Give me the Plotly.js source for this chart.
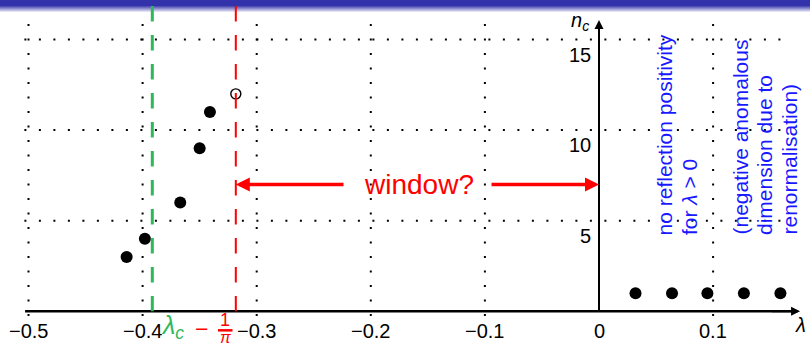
<!DOCTYPE html>
<html><head><meta charset="utf-8">
<script src="https://cdn.plot.ly/plotly-3.0.1.min.js"></script>
<style>html,body{margin:0;padding:0;background:#fff;}#chart{width:810px;height:347px;}</style>
</head><body><div id="chart"></div>
<script>
// ---- data ----
const lambdaFilled = [-0.414, -0.398, -0.367, -0.350, -0.341];
const ncFilled = [3, 4, 6, 9, 11];
const lambdaOpen = [-0.3183];
const ncOpen = [12];
const lambdaPositive = [0.032, 0.064, 0.095, 0.127, 0.159];
const ncPositive = [1, 1, 1, 1, 1];
const lambdaC = -0.3915;
const minusInvPi = -1 / Math.PI;
const xTickVals = [-0.5, -0.4, -0.3, -0.2, -0.1, 0, 0.1];
const xTickText = ['\u22120.5', '\u22120.4', '\u22120.3', '\u22120.2', '\u22120.1', '0', '0.1'];
const xGridVals = [-0.5, -0.4, -0.3, -0.2, -0.1, 0.1];
const yTickVals = [5, 10, 15];
const yTickText = ['5', '10', '15'];
const windowY = 7;
const blueLines1 = ['no reflection positivity', 'for <i>λ</i> > 0'];
const blueLines2 = ['(negative anomalous', 'dimension due to', 'renormalisation)'];

// ---- styling ----
const FONT = 'Liberation Sans, Arial, Helvetica, sans-serif';
const GREEN = 'rgb(46,184,92)';
const RED = 'rgb(255,0,0)';
const BLUE = 'rgb(25,25,255)';
const DOT = '2px,12.5px';
const DASH = '15.5px,13.5px';

const shapes = [];
// header gradient bar
const H = 347;
for (let i = 0; i < 13; i++) {
  const t = i < 6 ? 0 : (i - 5) / 7;
  const mix = (a) => Math.round(a + (255 - a) * t);
  shapes.push({type: 'rect', xref: 'paper', yref: 'paper', x0: 0, x1: 1,
    y0: 1 - (i + 1) / H, y1: 1 - i / H, line: {width: 0},
    fillcolor: `rgb(${mix(50)},${mix(50)},${mix(170)})`});
}
// dotted grid
xGridVals.forEach(v => shapes.push({type: 'line', xref: 'x', yref: 'y', layer: 'below',
  x0: v, x1: v, y0: -0.26, y1: 15.91, line: {color: '#000', width: 2, dash: DOT}}));
yTickVals.forEach(v => shapes.push({type: 'line', xref: 'x', yref: 'y', layer: 'below',
  x0: -0.5036, x1: 0.1613, y0: v, y1: v, line: {color: '#000', width: 2, dash: DOT}}));
// axes
shapes.push({type: 'line', xref: 'x', yref: 'y', x0: -0.503, x1: 0.17, y0: 0, y1: 0, line: {color: '#000', width: 2.5}});
shapes.push({type: 'line', xref: 'x', yref: 'y', x0: 0, x1: 0, y0: 0, y1: 15.7, line: {color: '#000', width: 2}});
// dashed verticals
shapes.push({type: 'line', xref: 'x', yref: 'y', x0: lambdaC, x1: lambdaC, y0: 16.85, y1: 0, line: {color: GREEN, width: 3, dash: DASH}});
shapes.push({type: 'line', xref: 'x', yref: 'y', x0: minusInvPi, x1: minusInvPi, y0: 16.85, y1: 0, line: {color: RED, width: 2, dash: DASH}});
// fraction bar
shapes.push({type: 'line', xref: 'x', yref: 'y', x0: -0.3339, x1: -0.3212, y0: -1.05, y1: -1.05, line: {color: RED, width: 2.5}});

const annotations = [];
xTickVals.forEach((v, i) => annotations.push({x: v, y: -1.09, xref: 'x', yref: 'y', text: xTickText[i],
  showarrow: false, xanchor: 'center', yanchor: 'middle', font: {family: FONT, size: 20, color: '#000'}}));
yTickVals.forEach((v, i) => annotations.push({x: -0.005, y: v, yshift: -15, xref: 'x', yref: 'y', text: yTickText[i],
  showarrow: false, xanchor: 'right', yanchor: 'middle', font: {family: FONT, size: 20, color: '#000'}}));
annotations.push({x: -0.0167, y: 16.02, xref: 'x', yref: 'y', text: '<i>n</i><sub><i>c</i></sub>', showarrow: false,
  xanchor: 'center', yanchor: 'middle', font: {family: FONT, size: 20, color: '#000'}});
annotations.push({x: 0.1762, y: -0.76, xref: 'x', yref: 'y', text: '<i>λ</i>', showarrow: false,
  xanchor: 'center', yanchor: 'middle', font: {family: FONT, size: 20, color: '#000'}});
// axis arrowheads
annotations.push({x: 0.1762, y: 0, ax: 0.15, ay: 0, xref: 'x', yref: 'y', axref: 'x', ayref: 'y', text: '',
  showarrow: true, arrowhead: 2, arrowsize: 0.9, arrowwidth: 2, arrowcolor: '#000'});
annotations.push({x: 0, y: 16.08, ax: 0, ay: 14, xref: 'x', yref: 'y', axref: 'x', ayref: 'y', text: '',
  showarrow: true, arrowhead: 2, arrowsize: 0.9, arrowwidth: 2, arrowcolor: '#000'});
// window arrows
annotations.push({x: minusInvPi, y: windowY, ax: -0.2226, ay: windowY, xref: 'x', yref: 'y', axref: 'x', ayref: 'y', text: '',
  showarrow: true, arrowhead: 2, arrowsize: 0.8, arrowwidth: 3.5, arrowcolor: RED});
annotations.push({x: 0, y: windowY, ax: -0.0955, ay: windowY, xref: 'x', yref: 'y', axref: 'x', ayref: 'y', text: '',
  showarrow: true, arrowhead: 2, arrowsize: 0.8, arrowwidth: 3.5, arrowcolor: RED});
annotations.push({x: -0.1578, y: windowY, xref: 'x', yref: 'y', text: 'window?', showarrow: false,
  xanchor: 'center', yanchor: 'middle', font: {family: FONT, size: 28, color: RED}});
// blue rotated text
const blueX1 = [0.0578, 0.0789];
const blueX2 = [0.1236, 0.1446, 0.1674];
blueLines1.forEach((t, i) => annotations.push({x: blueX1[i], y: 4.1, xref: 'x', yref: 'y', text: t, showarrow: false,
  textangle: -90, xanchor: 'center', yanchor: 'bottom', font: {family: FONT, size: 21, color: BLUE}}));
blueLines2.forEach((t, i) => annotations.push({x: blueX2[i], y: 4.1, xref: 'x', yref: 'y', text: t, showarrow: false,
  textangle: -90, xanchor: 'center', yanchor: 'bottom', font: {family: FONT, size: 21, color: BLUE}}));
// lambda_c - 1/pi labels
annotations.push({x: -0.3735, y: -0.85, xref: 'x', yref: 'y', text: '<i>λ</i><sub><i>c</i></sub>', showarrow: false,
  xanchor: 'center', yanchor: 'middle', font: {family: FONT, size: 25, color: GREEN}});
annotations.push({x: -0.3488, y: -1.0, xref: 'x', yref: 'y', text: '\u2212', showarrow: false,
  xanchor: 'center', yanchor: 'middle', font: {family: FONT, size: 23, color: RED}});
annotations.push({x: -0.3276, y: -0.5, xref: 'x', yref: 'y', text: '1', showarrow: false,
  xanchor: 'center', yanchor: 'middle', font: {family: FONT, size: 18, color: RED}});
annotations.push({x: -0.3276, y: -1.97, xref: 'x', yref: 'y', text: '<i>π</i>', showarrow: false, borderpad: 0,
  xanchor: 'center', yanchor: 'bottom', font: {family: FONT, size: 16, color: RED}});

const traces = [
  {x: lambdaFilled, y: ncFilled, type: 'scatter', mode: 'markers', marker: {color: '#000', size: 12}, hoverinfo: 'skip'},
  {x: lambdaPositive, y: ncPositive, type: 'scatter', mode: 'markers', marker: {color: '#000', size: 12}, hoverinfo: 'skip'},
  {x: lambdaOpen, y: ncOpen, type: 'scatter', mode: 'markers', marker: {symbol: 'circle-open', color: '#000', size: 10, line: {width: 1.4, color: '#000'}}, hoverinfo: 'skip'}
];

const layout = {
  width: 810, height: 347,
  margin: {l: 0, r: 0, t: 0, b: 0, pad: 0},
  paper_bgcolor: '#fff', plot_bgcolor: '#fff',
  showlegend: false,
  xaxis: {range: [-0.52498, 0.18493], visible: false, fixedrange: true},
  yaxis: {range: [-1.97, 17.18], visible: false, fixedrange: true},
  shapes: shapes,
  annotations: annotations,
  font: {family: FONT}
};
Plotly.newPlot('chart', traces, layout, {staticPlot: true, displayModeBar: false});
</script>
</body></html>
